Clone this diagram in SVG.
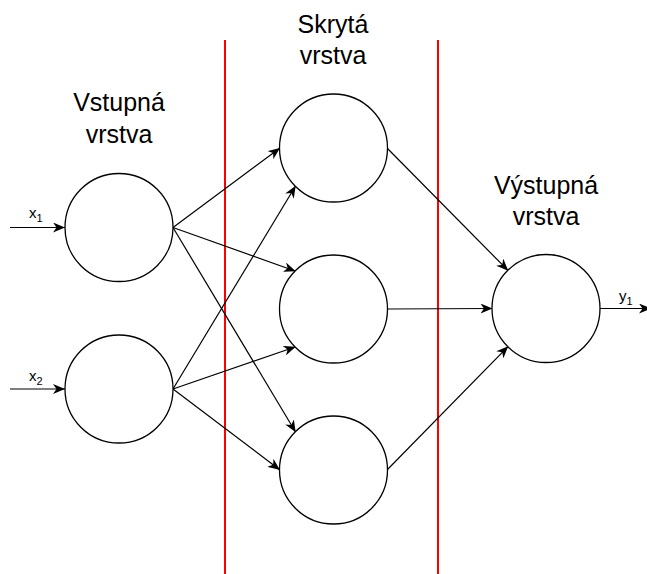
<svg xmlns="http://www.w3.org/2000/svg" width="647" height="574" viewBox="0 0 647 574">
<style>
.node{fill:#fff;stroke:#000;stroke-width:1.3}
.edge{fill:none;stroke:#000;stroke-width:1.2}
.sep{stroke:#ff0000;stroke-width:2}
.lbl{font-family:"Liberation Sans",Arial,Helvetica,sans-serif;font-size:25px;fill:#000;text-anchor:middle}
.io{font-family:"Liberation Sans",Arial,Helvetica,sans-serif;font-size:15px;fill:#000}
.sub{font-size:11px}
</style>
<defs>
<marker id="arr" markerUnits="userSpaceOnUse" markerWidth="13" markerHeight="10" refX="12" refY="5" orient="auto" viewBox="0 0 13 10">
<path d="M0,0 L12,5 L0,10 L3.5,5 Z" fill="#000"/>
</marker>
</defs>
<rect width="647" height="574" fill="#fff"/>
<g id="separators">
<line class="sep" x1="225" y1="40" x2="225" y2="574"/>
<line class="sep" x1="438" y1="40" x2="438" y2="574"/>
</g>
<g id="labels">
<text class="lbl" x="119" y="111">Vstupná</text>
<text class="lbl" x="119" y="143">vrstva</text>
<text class="lbl" x="333" y="33">Skrytá</text>
<text class="lbl" x="333" y="64">vrstva</text>
<text class="lbl" x="546" y="194">Výstupná</text>
<text class="lbl" x="546" y="225">vrstva</text>
</g>
<g id="connectors">
<line class="edge" x1="10" y1="227.5" x2="65" y2="227.5" marker-end="url(#arr)"/>
<line class="edge" x1="10" y1="389" x2="65" y2="389" marker-end="url(#arr)"/>
<line class="edge" x1="173" y1="227.5" x2="280" y2="148" marker-end="url(#arr)"/>
<line class="edge" x1="173" y1="227.5" x2="295.7" y2="271.2" marker-end="url(#arr)"/>
<line class="edge" x1="173" y1="227.5" x2="295.7" y2="432.2" marker-end="url(#arr)"/>
<line class="edge" x1="173" y1="389" x2="295.7" y2="185.8" marker-end="url(#arr)"/>
<line class="edge" x1="173" y1="389" x2="295.7" y2="346.8" marker-end="url(#arr)"/>
<line class="edge" x1="173" y1="389" x2="280" y2="470" marker-end="url(#arr)"/>
<line class="edge" x1="387" y1="148" x2="508.2" y2="270.7" marker-end="url(#arr)"/>
<line class="edge" x1="387" y1="309" x2="492.5" y2="308.5" marker-end="url(#arr)"/>
<line class="edge" x1="387" y1="470" x2="508.2" y2="346.3" marker-end="url(#arr)"/>
<line class="edge" x1="600" y1="308.5" x2="651" y2="308.5" marker-end="url(#arr)"/>
<text class="io" x="29" y="218">x<tspan class="sub" dy="4">1</tspan></text>
<text class="io" x="29" y="381">x<tspan class="sub" dy="4">2</tspan></text>
<text class="io" x="619" y="301">y<tspan class="sub" dy="4">1</tspan></text>
</g>
<g id="in1"><circle class="node" cx="119" cy="227.5" r="54"/></g>
<g id="in2"><circle class="node" cx="119" cy="389" r="54"/></g>
<g id="h1"><circle class="node" cx="333.5" cy="148" r="54"/></g>
<g id="h2"><circle class="node" cx="333.5" cy="309" r="54"/></g>
<g id="h3"><circle class="node" cx="333.5" cy="470" r="54"/></g>
<g id="out"><circle class="node" cx="546" cy="308.5" r="54"/></g>
</svg>
